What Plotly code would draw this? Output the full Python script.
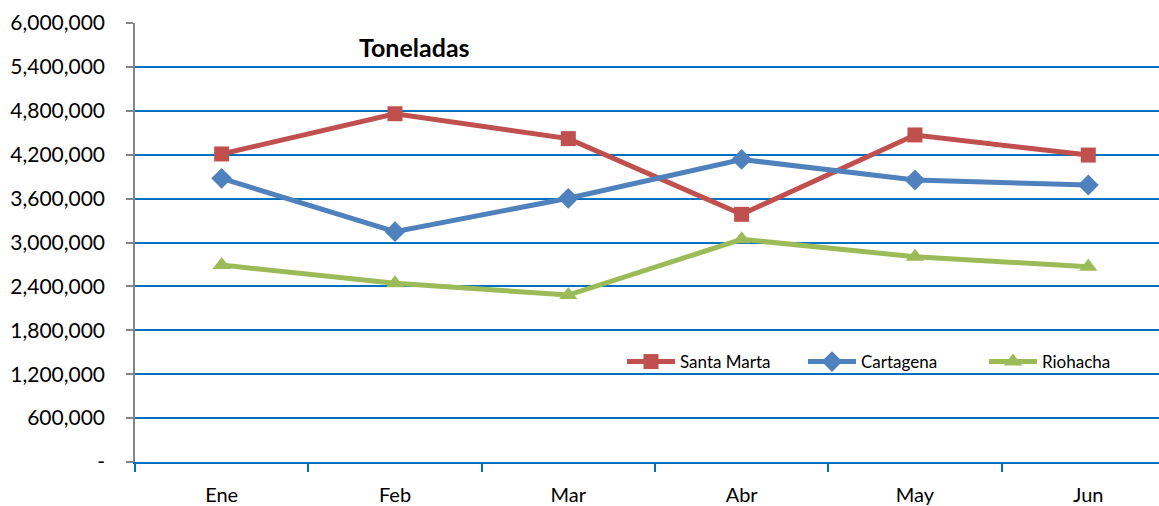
import plotly.graph_objects as go

months = ["Ene", "Feb", "Mar", "Abr", "May", "Jun"]
santa_marta = [4210000, 4760000, 4420000, 3385000, 4470000, 4195000]
cartagena = [3877000, 3148000, 3604000, 4135000, 3854000, 3786000]
riohacha = [2692000, 2442000, 2282000, 3043000, 2806000, 2669000]
y_ticks = [0, 600000, 1200000, 1800000, 2400000, 3000000, 3600000, 4200000, 4800000, 5400000, 6000000]
y_labels = ["-", "600,000", "1,200,000", "1,800,000", "2,400,000", "3,000,000",
            "3,600,000", "4,200,000", "4,800,000", "5,400,000", "6,000,000"]

FONT = "Lato"

fig = go.Figure()
series = [
    ("Santa Marta", santa_marta, "#C0504D", "square", 15),
    ("Cartagena", cartagena, "#4F81BD", "diamond", 16),
    ("Riohacha", riohacha, "#9BBB59", "triangle-up", 16),
]
for name, vals, col, sym, sz in series:
    fig.add_trace(go.Scatter(
        x=months, y=vals, name=name, mode="lines+markers",
        line=dict(color=col, width=5),
        marker=dict(symbol=sym, size=sz, color=col),
    ))

fig.update_layout(
    width=1159, height=506,
    margin=dict(l=135, r=0, t=23, b=44, autoexpand=False),
    paper_bgcolor="white", plot_bgcolor="white",
    font=dict(family=FONT, size=20, color="#000000"),
    showlegend=True,
    legend=dict(orientation="h", x=(622 - 135) / 1024, y=(462 - 362) / 439,
                xanchor="left", yanchor="middle",
                font=dict(family=FONT, size=17, color="#000000"),
                bgcolor="rgba(0,0,0,0)", itemwidth=48, entrywidth=118, tracegroupgap=0),
    annotations=[dict(text="<b>Toneladas</b>", x=(357 - 135) / 1024, y=(462 - 47) / 439,
                      xref="paper", yref="paper", xanchor="left", yanchor="middle",
                      showarrow=False, font=dict(family=FONT, size=25, color="#000000"))],
)

fig.update_xaxes(
    type="category", range=[-0.5, 5.408], automargin=False,
    showgrid=False, showline=True, linecolor="#0070C0", linewidth=1.5,
    ticks="outside", tickson="boundaries", ticklen=8, tickcolor="#0070C0", tickwidth=1.5,
    ticklabelstandoff=14,
    tickfont=dict(family=FONT, size=20, color="#000000"),
    zeroline=False,
)
fig.update_yaxes(
    range=[0, 6000000], tickvals=y_ticks, ticktext=y_labels, automargin=False,
    showgrid=True, gridcolor="#0070C0", gridwidth=1.5,
    showline=True, linecolor="#868686", linewidth=1.5,
    ticks="outside", ticklen=7, tickcolor="#868686", tickwidth=1.5,
    ticklabelstandoff=17,
    tickfont=dict(family=FONT, size=21, color="#000000"),
    zeroline=False,
)

fig.write_html("out.html", config={"displayModeBar": False},
               post_script="document.body.style.margin='0';document.body.style.overflow='hidden';")
